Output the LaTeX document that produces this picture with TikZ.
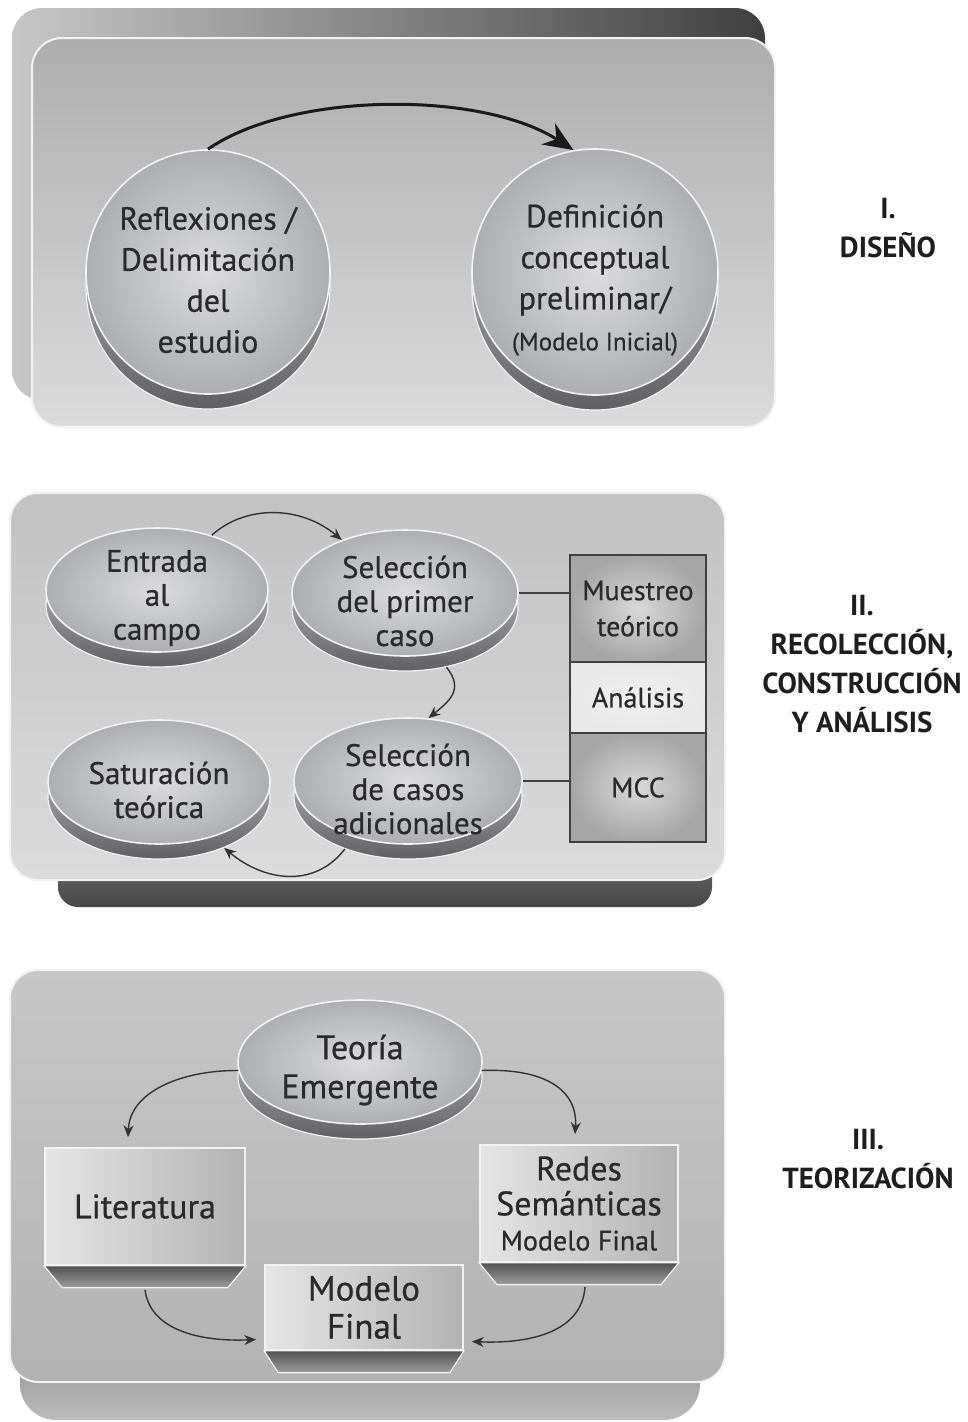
\documentclass[tikz,border=0pt]{standalone}
\usepackage{fontspec}
\setmainfont{PT Sans}
\newfontfamily\bodyfont{PT Sans}[FakeBold=0.6]
\usetikzlibrary{arrows.meta,shapes.geometric,calc}
\definecolor{txt}{HTML}{2A2A2A}
\definecolor{lab}{HTML}{1E1E1E}
\definecolor{faceIn}{HTML}{DCDCDE}
\definecolor{faceOut}{HTML}{ACAEB0}
\definecolor{rimTop}{HTML}{D0D0D2}
\definecolor{rimBot}{HTML}{606062}
\definecolor{edge}{HTML}{F2F2F4}
\definecolor{arr}{HTML}{333333}
\newcommand\coin[7]{%
  \node[rim, minimum width=#4, minimum height=#5] (#1r) at (#2,#3+15) {};
  \node[face, minimum width=#4, minimum height=#5] (#1) at (#2,#3) {};
  \node[#6] at ($(#1.center)+(0,8)$) {#7};
}
\begin{document}
\begin{tikzpicture}[x=1pt,y=-1pt,
  rim/.style={ellipse, draw=edge, line width=1.2pt, top color=rimTop, bottom color=rimBot, inner sep=0pt},
  face/.style={ellipse, draw=edge, line width=1.6pt, inner color=faceIn, outer color=faceOut, inner sep=0pt},
  txtA/.style={text=txt, align=center, font=\bodyfont\fontsize{32}{41}\selectfont},
  txtB/.style={text=txt, align=center, font=\bodyfont\fontsize{31}{34}\selectfont},
  txtC/.style={text=txt, align=center, font=\bodyfont\fontsize{34}{39}\selectfont},
  phase/.style={text=lab, align=center, font=\bfseries\fontsize{29}{39}\selectfont},
  stackbox/.style={rectangle, draw=black!75, line width=1.5pt, minimum width=136pt, text=txt, align=center, font=\bodyfont\fontsize{28}{36}\selectfont, inner color=gray!30, outer color=gray!70},
  boxface/.style={rectangle, draw=edge, line width=1.6pt, left color=black!10, right color=black!30, text=txt, align=center},
  basefill/.style={top color=black!68, bottom color=black!38, draw=edge, line width=1.2pt},
  bigarrow/.style={draw=black!90, line width=3pt, -{Stealth[length=30pt,width=25pt]}},
  smallarrow/.style={draw=arr, line width=1.4pt, -{Stealth[length=12pt,width=10pt]}},
  link/.style={draw=black!75, line width=1.5pt}
]
\useasboundingbox (0,0) rectangle (967,1422);
\fill[white] (0,0) rectangle (967,1422);

% ---------- Panel I ----------
\shade[left color=black!22, right color=black!75, rounded corners=30pt] (12,8) rectangle (765,400);
\shade[top color=black!32, bottom color=black!14, draw=edge, line width=2pt, rounded corners=30pt] (32,38) rectangle (775,427);

\coin{c1}{208}{272}{244pt}{244pt}{txtA}{Reflexiones /\\Delimitación\\del\\estudio}
\coin{c2}{595}{272}{246pt}{246pt}{txtA}{Definición\\conceptual\\preliminar/\\{\fontsize{25}{34}\selectfont (Modelo Inicial)}}
\draw[bigarrow] (c1.north) .. controls (290,92) and (480,90) .. (c2.100);

\node[phase] (ph1) at (888,228) {I.\\DISEÑO};

% ---------- Panel II ----------
\shade[top color=black!55, bottom color=black!72, rounded corners=20pt] (58,840) rectangle (712,907);
\shade[top color=black!24, bottom color=black!14, draw=edge, line width=2pt, rounded corners=28pt] (10,493) rectangle (725,880);

\coin{e1}{157}{590}{222pt}{124pt}{txtB}{Entrada\\al\\campo}
\coin{s1}{405}{593}{226pt}{126pt}{txtB}{Selección\\del primer\\caso}
\coin{sat}{159}{782}{222pt}{124pt}{txtB}{Saturación\\teórica}
\coin{s2}{408}{781}{228pt}{126pt}{txtB}{Selección\\de casos\\adicionales}

\node[stackbox, minimum height=107pt] (mt) at (638,608.5) {Muestreo\\teórico};
\node[stackbox, minimum height=71pt, inner color=black!6, outer color=black!9] (an) at (638,697.5) {Análisis};
\node[stackbox, minimum height=109pt] (mcc) at (638,787.5) {MCC};

\draw[link] (s1.east) -- (s1.east -| mt.west);
\draw[link] (s2.east) -- (s2.east -| mcc.west);

\draw[smallarrow] (e1.45) .. controls (245,505) and (300,505) .. (s1.140);
\draw[smallarrow] (s1r.-55) .. controls (465,690) and (448,702) .. (s2.72);
\draw[smallarrow] (s2r.-140) .. controls (315,888) and (265,882) .. (satr.-38);

\node[phase] (ph2) at (862,664) {II.\\RECOLECCIÓN,\\CONSTRUCCIÓN\\Y ANÁLISIS};

% ---------- Panel III ----------
\shade[top color=black!55, bottom color=black!26, rounded corners=36pt] (20,1300) rectangle (700,1420);
\shade[top color=black!22, bottom color=black!30, draw=edge, line width=2pt, rounded corners=28pt] (10,970) rectangle (725,1382);

\coin{te}{360}{1062}{244pt}{124pt}{txtC}{Teoría\\Emergente}

\node[boxface, minimum width=200pt, minimum height=117pt, font=\bodyfont\fontsize{34}{39}\selectfont] (lit) at (145,1206.5) {Literatura};
\fill[basefill] (lit.south west) -- (lit.south east) -- ($(lit.south east)+(-18,22)$) -- ($(lit.south west)+(18,22)$) -- cycle;
\coordinate (litb) at ($(lit.south)+(0,24)$);

\node[boxface, minimum width=198pt, minimum height=117pt, font=\bodyfont\fontsize{34}{35}\selectfont] (red) at (579,1203.5) {Redes\\Semánticas\\{\fontsize{28}{36}\selectfont Modelo Final}};
\fill[basefill] (red.south west) -- (red.south east) -- ($(red.south east)+(-18,22)$) -- ($(red.south west)+(18,22)$) -- cycle;
\coordinate (redb) at ($(red.south)+(6,24)$);

\node[boxface, minimum width=198pt, minimum height=85pt, font=\bodyfont\fontsize{35}{38}\selectfont] (mf) at (364,1307.5) {Modelo\\Final};
\fill[basefill] (mf.south west) -- (mf.south east) -- ($(mf.south east)+(-14,22)$) -- ($(mf.south west)+(14,22)$) -- cycle;

\draw[smallarrow] (te.184) .. controls (185,1070) and (130,1090) .. ($(lit.north)+(-17,-10)$);
\draw[smallarrow] (te.-4) .. controls (545,1068) and (578,1090) .. ($(red.north)+(-4,-10)$);
\draw[smallarrow] (litb) .. controls (150,1330) and (200,1342) .. ($(mf.west)+(-8,32)$);
\draw[smallarrow] (redb) .. controls (582,1332) and (530,1344) .. ($(mf.east)+(8,34)$);

\node[phase] (ph3) at (868,1159) {III.\\TEORIZACIÓN};
\end{tikzpicture}
\end{document}
